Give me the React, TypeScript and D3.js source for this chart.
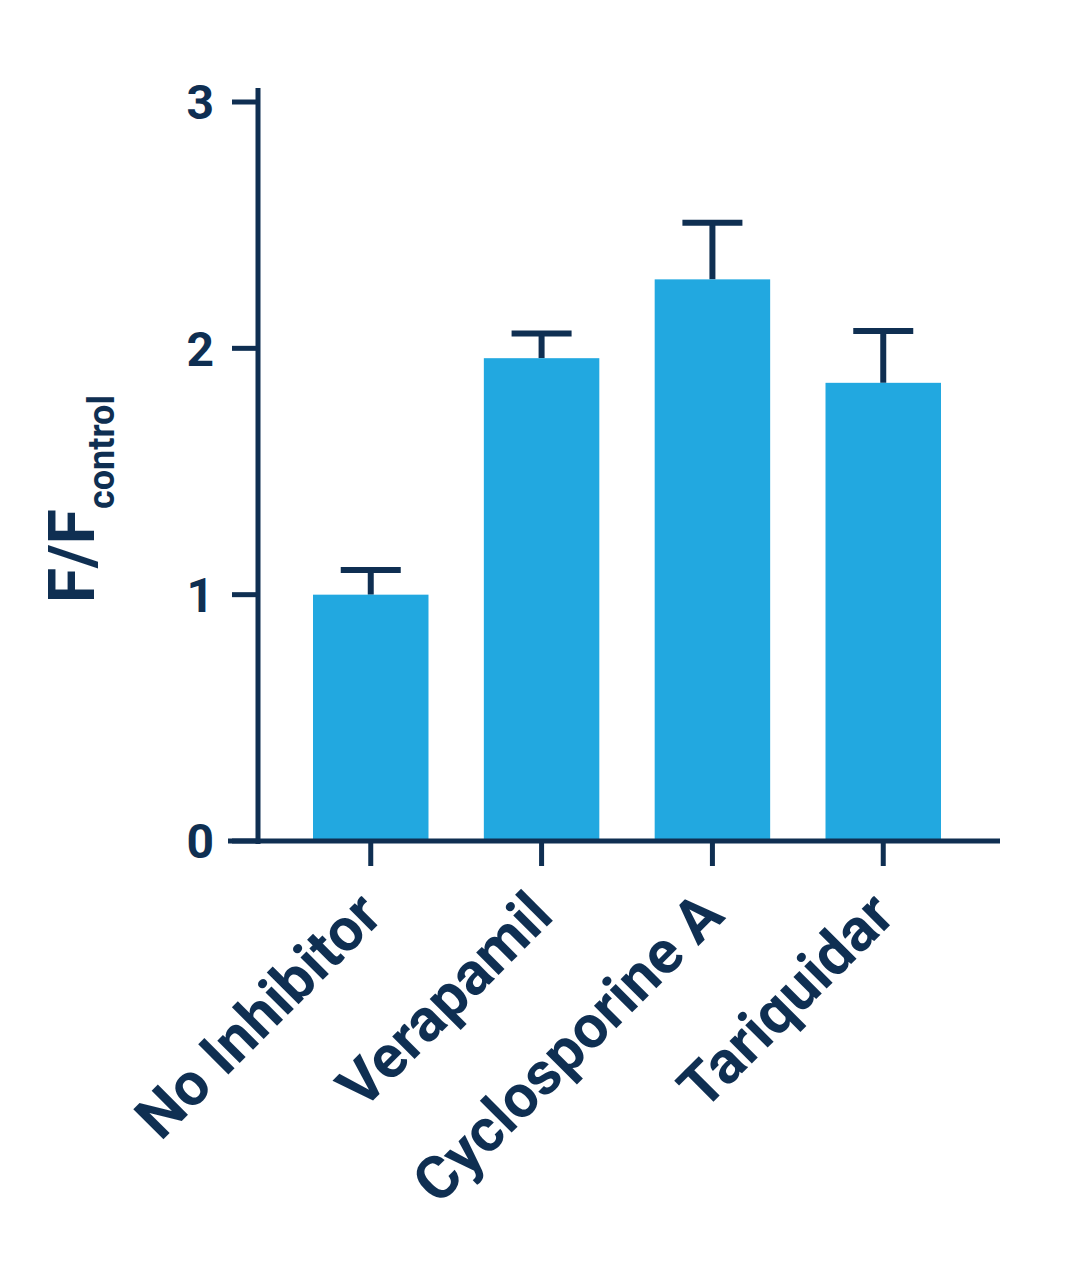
import React from "react";
import * as d3 from "d3";

const categories = ["No Inhibitor", "Verapamil", "Cyclosporine A", "Tariquidar"];
const means = [1.0, 1.96, 2.28, 1.86];
const errors = [0.1, 0.1, 0.23, 0.21];
const yTicks = [0, 1, 2, 3];

const NAVY = "#0f2f52";
const BLUE = "#22a8e0";
const FONT = "Roboto, 'Open Sans', sans-serif";

export default function App() {
  const W = 1089, H = 1280;
  const y = d3.scaleLinear().domain([0, 3]).range([841, 102]);
  const x = d3.scaleBand<string>().domain(categories).range([258, 996]).paddingInner(0.324).paddingOuter(0.322);
  const bw = x.bandwidth();
  const capW = 60;
  return (
    <svg width={W} height={H} style={{ display: "block", position: "absolute", left: 0, top: 0 }} fontFamily={FONT}>
      <rect width={W} height={H} fill="#fff" />
      {categories.map((c, i) => {
        const x0 = x(c)!;
        const cx = x0 + bw / 2;
        return (
          <g key={c}>
            <line x1={cx} x2={cx} y1={y(means[i])} y2={y(means[i] + errors[i])} stroke={NAVY} strokeWidth={6} />
            <line x1={cx - capW / 2} x2={cx + capW / 2} y1={y(means[i] + errors[i])} y2={y(means[i] + errors[i])} stroke={NAVY} strokeWidth={6} />
            <rect x={x0} y={y(means[i])} width={bw} height={y(0) - y(means[i])} fill={BLUE} />
            <line x1={cx} x2={cx} y1={841} y2={866} stroke={NAVY} strokeWidth={5} />
            <text
              transform={`translate(${cx + 14},${918}) rotate(-45)`}
              textAnchor="end"
              fontSize={60}
              fontWeight={700}
              fill={NAVY}
            >
              {c}
            </text>
          </g>
        );
      })}
      {/* axes */}
      <line x1={258} x2={258} y1={88} y2={844} stroke={NAVY} strokeWidth={5} />
      <line x1={228} x2={1000} y1={841} y2={841} stroke={NAVY} strokeWidth={5} />
      {yTicks.map((t) => (
        <g key={t}>
          <line x1={232} x2={258} y1={y(t)} y2={y(t)} stroke={NAVY} strokeWidth={5} />
          <text x={214} y={y(t)} dy="0.36em" textAnchor="end" fontSize={48} fontWeight={700} fill={NAVY}>
            {t}
          </text>
        </g>
      ))}
      <text transform={`translate(94,603) rotate(-90)`} fontSize={64} fontWeight={700} fill={NAVY}>
        F/F
        <tspan fontSize={36} dy={20}>control</tspan>
      </text>
    </svg>
  );
}
